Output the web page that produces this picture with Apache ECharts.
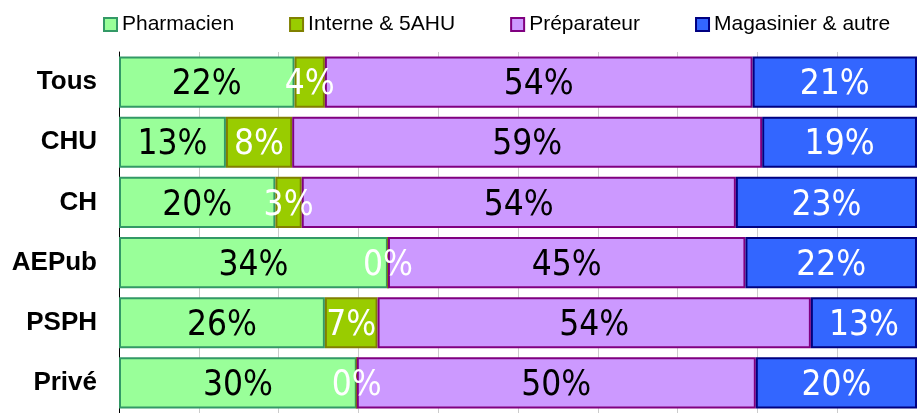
<!DOCTYPE html>
<html>
<head>
<meta charset="utf-8">
<script src="https://cdn.jsdelivr.net/npm/echarts@6/dist/echarts.min.js"></script>
<style>
  html, body { margin: 0; padding: 0; background: #fff; }
  #chart { width: 917px; height: 413px; }
</style>
</head>
<body>
<div id="chart"></div>
<script>
// categories, top to bottom
const categories = ['Tous', 'CHU', 'CH', 'AEPub', 'PSPH', 'Privé'];
// share of staff (%)
const pharmacien = [22.0, 13.4, 19.6, 33.7, 25.8, 29.8];
const interne = [3.8, 8.3, 3.3, 0, 6.6, 0];
const preparateur = [53.6, 58.9, 54.4, 44.8, 54.3, 50.0];
const magasinier = [20.6, 19.4, 22.7, 21.5, 13.3, 20.2];

const narrow = '"Liberation Sans Narrow", "Arial Narrow", "DejaVu Sans Condensed", sans-serif';

function makeSeries(name, data, fill, border, labelColor) {
  return {
    name: name,
    type: 'bar',
    stack: 'total',
    data: data,
    barCategoryGap: '15%',
    itemStyle: { color: fill, borderColor: border, borderWidth: 2 },
    label: {
      show: true,
      position: 'inside',
      color: labelColor,
      fontFamily: narrow,
      fontSize: 35,
      offset: [0, 3],
      formatter: p => Math.round(p.value) + '%'
    },
    emphasis: { disabled: true }
  };
}

const chart = echarts.init(document.getElementById('chart'));
chart.setOption({
  animation: false,
  legend: {
    left: 98,
    top: 9,
    itemWidth: 13,
    itemHeight: 13,
    itemGap: 55,
    icon: 'rect',
    textStyle: { fontFamily: 'Liberation Sans, Arial, sans-serif', fontSize: 21, color: '#000' }
  },
  grid: { left: 119, top: 52, width: 800, height: 366 },
  xAxis: {
    type: 'value',
    min: 0,
    max: 100,
    interval: 10,
    axisLabel: { show: false },
    axisLine: { show: false },
    axisTick: { show: false },
    splitLine: { lineStyle: { color: '#cccccc', width: 1 } }
  },
  yAxis: {
    type: 'category',
    data: categories,
    inverse: true,
    axisLine: { lineStyle: { color: '#000', width: 1 } },
    axisTick: { length: 8, lineStyle: { color: '#000' } },
    axisLabel: {
      margin: 22,
      fontFamily: 'Liberation Sans, Arial, sans-serif',
      fontWeight: 'bold',
      fontSize: 26,
      color: '#000'
    }
  },
  series: [
    makeSeries('Pharmacien', pharmacien, '#99ff99', '#339966', '#000'),
    makeSeries('Interne & 5AHU', interne, '#99cc00', '#808000', '#fff'),
    makeSeries('Préparateur', preparateur, '#cc99ff', '#800080', '#000'),
    makeSeries('Magasinier & autre', magasinier, '#3366ff', '#000080', '#fff')
  ]
});
</script>
</body>
</html>
